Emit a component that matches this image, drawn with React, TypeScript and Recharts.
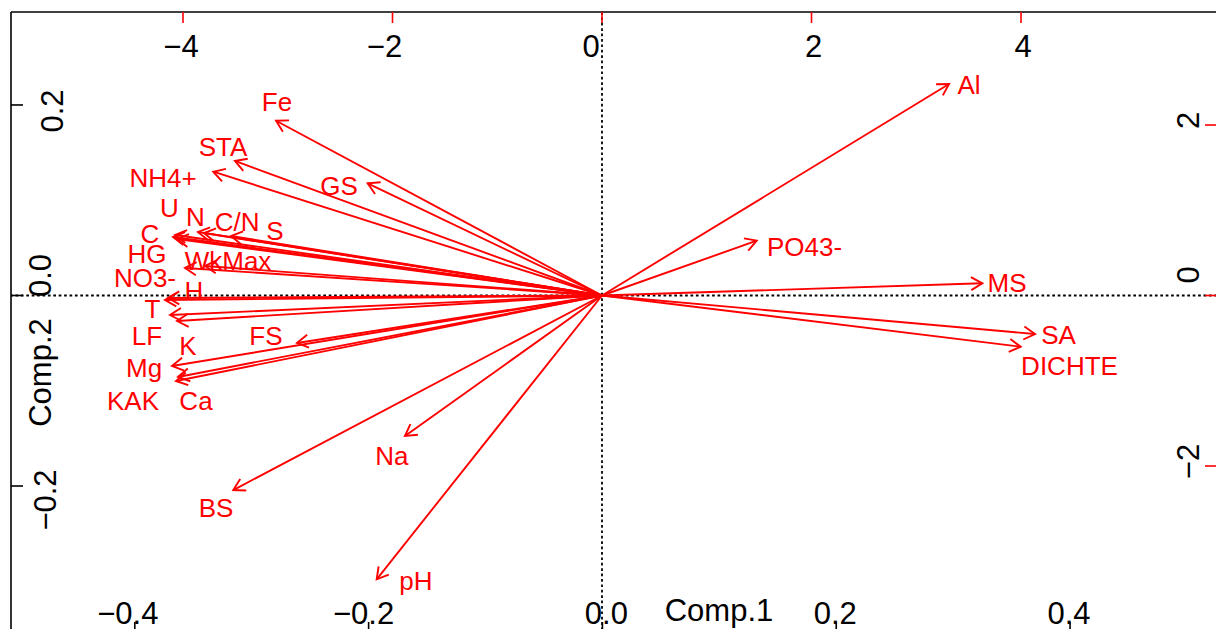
import React from 'react';
import { ScatterChart, Scatter, XAxis, YAxis, ReferenceLine } from 'recharts';

// ---- data ----
const variables = ['Fe', 'STA', 'NH4+', 'GS', 'U', 'C', 'HG', 'N', 'S', 'C/N', 'WkMax', 'NO3-', 'H', 'T', 'LF', 'K', 'FS', 'Mg', 'Ca', 'KAK', 'BS', 'Na', 'pH', 'Al', 'PO43-', 'MS', 'SA', 'DICHTE'];
// arrow tips (top / right axis units)
const arrowX = [-3.112, -3.504, -3.711, -2.237, -4.076, -4.095, -4.057, -3.857, -3.800, -3.542, -3.790, -3.981, -4.143, -4.172, -4.124, -4.057, -2.912, -4.105, -4.048, -4.067, -3.520, -1.881, -2.151, 3.313, 1.477, 3.631, 4.134, 3.997];
const arrowY = [2.050, 1.578, 1.452, 1.316, 0.710, 0.686, 0.663, 0.745, 0.733, 0.698, 0.346, 0.323, -0.029, -0.053, -0.229, -0.299, -0.557, -0.827, -0.956, -1.003, -2.282, -1.648, -3.329, 2.481, 0.643, 0.143, -0.452, -0.601];
// label centres (top / right axis units)
const labelX = [-3.103, -3.618, -4.191, -2.511, -4.129, -4.315, -4.344, -3.881, -3.122, -3.484, -3.570, -4.363, -3.895, -4.291, -4.344, -3.952, -3.208, -4.372, -3.876, -4.477, -3.685, -2.005, -1.776, 3.504, 1.933, 3.866, 4.358, 4.463];
const labelY = [2.270, 1.742, 1.384, 1.284, 1.026, 0.727, 0.487, 0.921, 0.757, 0.862, 0.405, 0.211, 0.053, -0.158, -0.475, -0.587, -0.475, -0.850, -1.238, -1.238, -2.493, -1.883, -3.349, 2.475, 0.569, 0.152, -0.457, -0.821];

const topTicks = [-4, -2, 0, 2, 4];
const rightTicks = [-2, 0, 2];
const bottomTicks = [-0.4, -0.2, 0, 0.2, 0.4];
const leftTicks = [-0.2, 0, 0.2];

const topDomain = [-5.642, 5.871];
const rightDomain = [-3.959, 3.3255];
const bottomDomain = [-0.5059, 0.5257];
const leftDomain = [-0.3543, 0.2976];

// origin of the score axes (no observations are shown)
const scoreOrigin = [{ x: 0, y: 0 }];

// ---- styling ----
const FONT = '"Liberation Sans", Arial, Helvetica, sans-serif';
const RED = '#ff0000';
const AXFS = 31;
const LBFS = 26;

const fmt = (v: number, d: number) => (v < 0 ? '\u2212' : '') + Math.abs(v).toFixed(d);

const labelData = variables.map((name, i) => ({ name, x: labelX[i], y: labelY[i] }));

const topDx: Record<string, number> = { '-4': -2, '-2': -8, '0': -11, '2': 2, '4': 2 };
const bottomDx: Record<string, number> = { '-0.4': -7, '-0.2': -5, '0': 4, '0.2': -1, '0.4': -1 };
const leftPos: Record<string, [number, number]> = { '0.2': [52, 6], '0': [40, -20], '-0.2': [45, 14] };
const rightDy: Record<string, number> = { '2': -4.5, '0': -20.5, '-2': -4.5 };

const TopTick = (props: any) => {
  const { x, payload } = props;
  const v = payload.value;
  return (
    <text x={x + (topDx[String(v)] ?? 0)} y={57} textAnchor="middle" fontSize={AXFS} fontFamily={FONT} fill="#000">
      {fmt(v, 0)}
    </text>
  );
};

const BottomTick = (props: any) => {
  const { x, payload } = props;
  const v = payload.value;
  return (
    <text x={x + (bottomDx[String(v)] ?? 0)} y={623.5} textAnchor="middle" fontSize={AXFS} fontFamily={FONT} fill="#000">
      {fmt(v, 1)}
    </text>
  );
};

const LeftTick = (props: any) => {
  const { y, payload } = props;
  const v = payload.value;
  const p = leftPos[String(v)] ?? [45, 0];
  const cx = p[0];
  const cy = y + p[1];
  return (
    <text x={cx} y={cy} dy={0.358 * AXFS} transform={`rotate(-90 ${cx} ${cy})`} textAnchor="middle" fontSize={AXFS} fontFamily={FONT} fill="#000">
      {fmt(v, 1)}
    </text>
  );
};

const RightTick = (props: any) => {
  const { y, payload } = props;
  const v = payload.value;
  const cx = 1188;
  const cy = y + (rightDy[String(v)] ?? 0);
  return (
    <text x={cx} y={cy} dy={0.358 * AXFS} transform={`rotate(-90 ${cx} ${cy})`} textAnchor="middle" fontSize={AXFS} fontFamily={FONT} fill="#000">
      {fmt(v, 0)}
    </text>
  );
};

const ArrowShape = (props: any) => {
  const { x1, y1, x2, y2 } = props;
  const ang = Math.atan2(y2 - y1, x2 - x1);
  const L = 13;
  const a = Math.PI / 6;
  const ax = x2 - L * Math.cos(ang - a);
  const ay = y2 - L * Math.sin(ang - a);
  const bx = x2 - L * Math.cos(ang + a);
  const by = y2 - L * Math.sin(ang + a);
  return (
    <g>
      <line x1={x1} y1={y1} x2={x2} y2={y2} stroke={RED} strokeWidth={1.9} />
      <path d={`M${ax},${ay}L${x2},${y2}L${bx},${by}`} fill="none" stroke={RED} strokeWidth={1.9} />
    </g>
  );
};

const LabelShape = (props: any) => {
  const { cx, cy, payload } = props;
  return (
    <text x={cx} y={cy + 0.358 * LBFS} textAnchor="middle" fontSize={LBFS} fontFamily={FONT} fill={RED}>
      {payload.name}
    </text>
  );
};

const NoShape = () => <g />;

const Comp1 = () => (
  <text x={719} y={621} textAnchor="middle" fontSize={AXFS} fontFamily={FONT} fill="#000">Comp.1</text>
);
const Comp2 = () => (
  <text x={40} y={372.5} dy={0.358 * AXFS} transform="rotate(-90 40 372.5)" textAnchor="middle" fontSize={AXFS} fontFamily={FONT} fill="#000">Comp.2</text>
);

export default function App() {
  return (
    <div style={{ position: 'absolute', left: 0, top: 0, width: 1216, height: 629, overflow: 'hidden', background: '#fff' }}>
      <ScatterChart width={1240} height={660} margin={{ top: 12, left: 11, right: 23, bottom: 27 }}>
        <XAxis xAxisId="top" orientation="top" type="number" dataKey="x" domain={topDomain} allowDataOverflow
          ticks={topTicks} interval={0} mirror height={1} tickSize={11} tickMargin={0}
          axisLine={{ stroke: '#000', strokeWidth: 1.6 }} tickLine={{ stroke: RED, strokeWidth: 1.6 }} tick={TopTick} />
        <XAxis xAxisId="bot" orientation="bottom" type="number" dataKey="x" domain={bottomDomain} allowDataOverflow
          ticks={bottomTicks} interval={0} mirror height={1} tickSize={11} tickMargin={0}
          axisLine={{ stroke: '#000', strokeWidth: 1.6 }} tickLine={{ stroke: '#000', strokeWidth: 1.6 }} tick={BottomTick}
          label={{ value: 'Comp.1', content: Comp1 }} />
        <YAxis yAxisId="right" orientation="right" type="number" dataKey="y" domain={rightDomain} allowDataOverflow
          ticks={rightTicks} interval={0} mirror width={1} tickSize={12} tickMargin={0}
          axisLine={{ stroke: '#000', strokeWidth: 1.6 }} tickLine={{ stroke: RED, strokeWidth: 1.6 }} tick={RightTick} />
        <YAxis yAxisId="left" orientation="left" type="number" dataKey="y" domain={leftDomain} allowDataOverflow
          ticks={leftTicks} interval={0} mirror width={1} tickSize={12} tickMargin={0}
          axisLine={{ stroke: '#000', strokeWidth: 1.6 }} tickLine={{ stroke: '#000', strokeWidth: 1.6 }} tick={LeftTick}
          label={{ value: 'Comp.2', content: Comp2 }} />
        <ReferenceLine xAxisId="top" yAxisId="right" x={0} stroke="#000" strokeWidth={1.8} strokeDasharray="2.7 2.7" />
        <ReferenceLine xAxisId="top" yAxisId="right" y={0} stroke="#000" strokeWidth={1.8} strokeDasharray="2.7 2.7" />
        {variables.map((name, i) => (
          <ReferenceLine key={name} xAxisId="top" yAxisId="right"
            segment={[{ x: 0, y: 0 }, { x: arrowX[i], y: arrowY[i] }]} shape={ArrowShape} />
        ))}
        <Scatter xAxisId="bot" yAxisId="left" data={scoreOrigin} shape={NoShape} isAnimationActive={false} />
        <Scatter xAxisId="top" yAxisId="right" data={labelData} shape={LabelShape} isAnimationActive={false} />
      </ScatterChart>
    </div>
  );
}
